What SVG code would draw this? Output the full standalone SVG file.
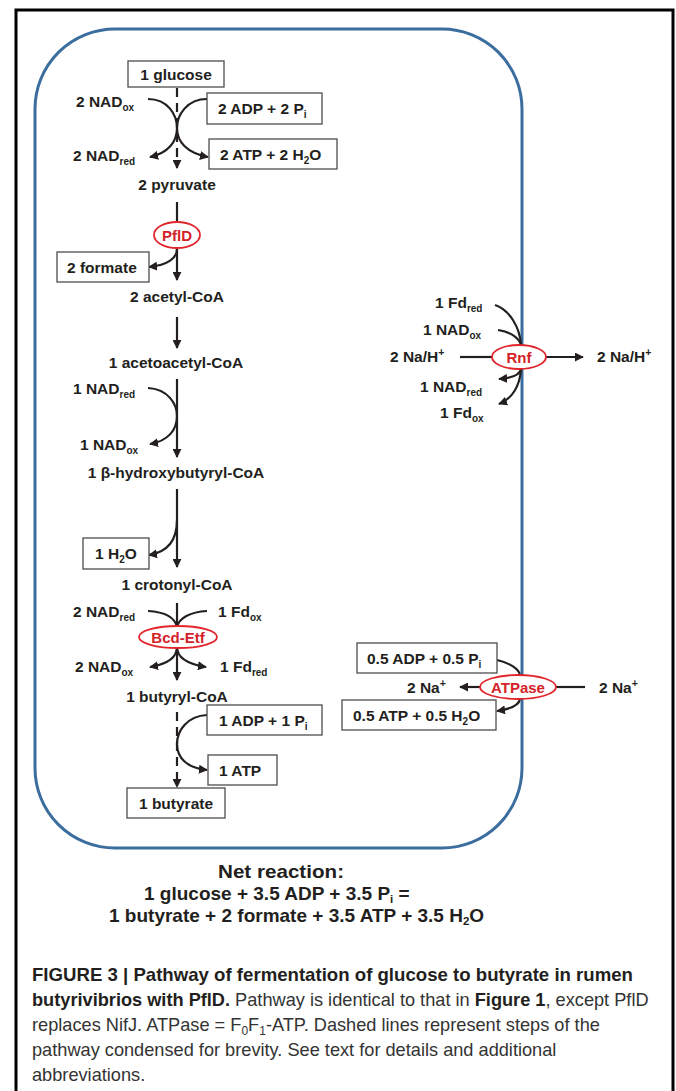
<svg xmlns="http://www.w3.org/2000/svg" width="676" height="1091" viewBox="0 0 676 1091">
<defs>
<style>
.t{font-family:"Liberation Sans",Arial,Helvetica,sans-serif;font-weight:bold;font-size:15.5px;fill:#231f20}
.m{text-anchor:middle}
.sub{font-size:10px}
.sup{font-size:10.5px}
.box{fill:#fff;stroke:#4d4d4d;stroke-width:1.3}
.enz{fill:#fff;stroke:#e2242b;stroke-width:1.8}
.et{font-family:"Liberation Sans",Arial,Helvetica,sans-serif;font-weight:bold;font-size:15px;fill:#d42229;text-anchor:middle}
.ln{fill:none;stroke:#231f20;stroke-width:2.2}
.dash{stroke-dasharray:9 6}
.cap{font-family:"Liberation Sans",Arial,Helvetica,sans-serif;font-size:18.2px;fill:#333}
.b{font-weight:bold;fill:#231f20}
.net{font-family:"Liberation Sans",Arial,Helvetica,sans-serif;font-weight:bold;font-size:19px;fill:#231f20}
</style>
<marker id="ah" viewBox="0 0 10 10" refX="9" refY="5" markerWidth="9" markerHeight="9" markerUnits="userSpaceOnUse" orient="auto">
<path d="M0,0 L10,5 L0,10 z" fill="#231f20"/>
</marker>
</defs>
<rect width="676" height="1091" fill="#fff"/>
<path d="M16,1091 V10 H673 V1091" fill="none" stroke="#000" stroke-width="3"/>
<rect id="cell" x="35" y="29" width="487" height="819" rx="80" ry="80" fill="none" stroke="#3b6d9e" stroke-width="3"/>

<g id="connectors">
<path class="ln dash" d="M177,88 V168" marker-end="url(#ah)"/>
<path class="ln" d="M148,99 C168,99 177,115 177,128 C177,142 168,153 150,157" marker-end="url(#ah)"/>
<path class="ln" d="M207,99 C187,99 177,115 177,128 C177,142 187,153 208,157" marker-end="url(#ah)"/>
<path class="ln" d="M177,202 V280" marker-end="url(#ah)"/>
<path class="ln" d="M177,249 C177,258 168,265 149,267" marker-end="url(#ah)"/>
<path class="ln" d="M177,317 V348" marker-end="url(#ah)"/>
<path class="ln" d="M177,379 V457" marker-end="url(#ah)"/>
<path class="ln" d="M148,388 C168,389 177,404 177,416 C177,430 168,441 150,444" marker-end="url(#ah)"/>
<path class="ln" d="M177,489 V567" marker-end="url(#ah)"/>
<path class="ln" d="M177,520 C177,540 168,552 149,555" marker-end="url(#ah)"/>
<path class="ln" d="M177,603 V680" marker-end="url(#ah)"/>
<path class="ln" d="M148,611 C165,612 175,618 177,627"/>
<path class="ln" d="M207,611 C190,612 179,618 177,627"/>
<path class="ln" d="M177,647 C177,657 168,664 150,667" marker-end="url(#ah)"/>
<path class="ln" d="M177,647 C177,657 187,664 206,667" marker-end="url(#ah)"/>
<path class="ln dash" d="M177,712 V787" marker-end="url(#ah)"/>
<path class="ln" d="M207,715 C187,716 177,731 177,744 C177,758 187,768 207,770" marker-end="url(#ah)"/>
<path class="ln" d="M460,357 H492"/>
<path class="ln" d="M546,357 H583" marker-end="url(#ah)"/>
<path class="ln" d="M495,305 C510,310 520,328 521,345"/>
<path class="ln" d="M498,330 C511,332 519,338 521,345"/>
<path class="ln" d="M521,369 C520,375 512,378 499,379" marker-end="url(#ah)"/>
<path class="ln" d="M521,369 C520,386 512,399 499,404" marker-end="url(#ah)"/>
<path class="ln" d="M480,687 H460" marker-end="url(#ah)"/>
<path class="ln" d="M556,687 H585"/>
<path class="ln" d="M497,660 C510,663 519,669 520,675"/>
<path class="ln" d="M520,699 C519,705 511,709 497,711" marker-end="url(#ah)"/>
</g>

<g id="glucose"><rect class="box" x="128" y="61" width="96" height="26"/><text class="t m" x="176" y="80">1 glucose</text></g>
<g id="nadox1"><text class="t" x="76" y="107">2 NAD<tspan class="sub" dy="4">ox</tspan></text></g>
<g id="nadred1"><text class="t" x="73" y="161">2 NAD<tspan class="sub" dy="4">red</tspan></text></g>
<g id="adp1"><rect class="box" x="207" y="93" width="115" height="31"/><text class="t" x="218" y="114">2 ADP + 2 P<tspan class="sub" dy="4">i</tspan></text></g>
<g id="atp1"><rect class="box" x="209" y="139" width="128" height="30"/><text class="t" x="220" y="160">2 ATP + 2 H<tspan class="sub" dy="4">2</tspan><tspan dy="-4">O</tspan></text></g>
<g id="pyruvate"><text class="t m" x="177" y="190">2 pyruvate</text></g>
<g id="pflD"><ellipse class="enz" cx="177" cy="235" rx="23" ry="13"/><text class="et" x="177" y="240.5">PflD</text></g>
<g id="formate"><rect class="box" x="57" y="252" width="92" height="30"/><text class="t" x="67" y="273">2 formate</text></g>
<g id="acetylcoa"><text class="t m" x="177" y="302">2 acetyl-CoA</text></g>
<g id="acetoacetylcoa"><text class="t m" x="176" y="368">1 acetoacetyl-CoA</text></g>
<g id="nadred2"><text class="t" x="73" y="394">1 NAD<tspan class="sub" dy="4">red</tspan></text></g>
<g id="nadox2"><text class="t" x="80" y="450">1 NAD<tspan class="sub" dy="4">ox</tspan></text></g>
<g id="hbcoa"><text class="t m" x="176" y="478">1 β-hydroxybutyryl-CoA</text></g>
<g id="h2o"><rect class="box" x="83" y="538" width="66" height="31"/><text class="t" x="95" y="559">1 H<tspan class="sub" dy="4">2</tspan><tspan dy="-4">O</tspan></text></g>
<g id="crotonylcoa"><text class="t m" x="177" y="590">1 crotonyl-CoA</text></g>
<g id="nadred3"><text class="t" x="73" y="617">2 NAD<tspan class="sub" dy="4">red</tspan></text></g>
<g id="fdox3"><text class="t" x="218" y="617">1 Fd<tspan class="sub" dy="4">ox</tspan></text></g>
<g id="bcdetf"><ellipse class="enz" cx="178" cy="637" rx="39" ry="11"/><text class="et" x="178" y="642.5">Bcd-Etf</text></g>
<g id="nadox3"><text class="t" x="75" y="672">2 NAD<tspan class="sub" dy="4">ox</tspan></text></g>
<g id="fdred3"><text class="t" x="220" y="672">1 Fd<tspan class="sub" dy="4">red</tspan></text></g>
<g id="butyrylcoa"><text class="t m" x="177" y="702">1 butyryl-CoA</text></g>
<g id="adp2"><rect class="box" x="207" y="705" width="115" height="30"/><text class="t" x="219" y="726">1 ADP + 1 P<tspan class="sub" dy="4">i</tspan></text></g>
<g id="atp2"><rect class="box" x="208" y="755" width="69" height="30"/><text class="t" x="219" y="776">1 ATP</text></g>
<g id="butyrate"><rect class="box" x="127" y="788" width="98" height="30"/><text class="t m" x="176" y="809">1 butyrate</text></g>

<g id="fdred4"><text class="t" x="435" y="308">1 Fd<tspan class="sub" dy="4">red</tspan></text></g>
<g id="nadox4"><text class="t" x="423" y="335">1 NAD<tspan class="sub" dy="4">ox</tspan></text></g>
<g id="nah-in"><text class="t" x="390" y="362">2 Na/H<tspan class="sup" dy="-6">+</tspan></text></g>
<g id="rnf"><ellipse class="enz" cx="519" cy="357" rx="27" ry="12"/><text class="et" x="519" y="362.5">Rnf</text></g>
<g id="nah-out"><text class="t" x="597" y="362">2 Na/H<tspan class="sup" dy="-6">+</tspan></text></g>
<g id="nadred4"><text class="t" x="420" y="392">1 NAD<tspan class="sub" dy="4">red</tspan></text></g>
<g id="fdox4"><text class="t" x="440" y="418">1 Fd<tspan class="sub" dy="4">ox</tspan></text></g>

<g id="adp3"><rect class="box" x="357" y="643" width="140" height="30"/><text class="t" x="367" y="664">0.5 ADP + 0.5 P<tspan class="sub" dy="4">i</tspan></text></g>
<g id="na-in"><text class="t" x="407" y="693">2 Na<tspan class="sup" dy="-6">+</tspan></text></g>
<g id="atpase"><ellipse class="enz" cx="518" cy="687" rx="38" ry="12"/><text class="et" x="518" y="692.5">ATPase</text></g>
<g id="na-out"><text class="t" x="599" y="693">2 Na<tspan class="sup" dy="-6">+</tspan></text></g>
<g id="atp3"><rect class="box" x="342" y="700" width="154" height="30"/><text class="t" x="353" y="721">0.5 ATP + 0.5 H<tspan class="sub" dy="4">2</tspan><tspan dy="-4">O</tspan></text></g>

<g id="net-reaction">
<text class="net" x="218" y="878" textLength="126" lengthAdjust="spacingAndGlyphs">Net reaction:</text>
<text class="net" x="144" y="900">1 glucose + 3.5 ADP + 3.5 P<tspan font-size="11.5" dy="3">i</tspan><tspan dy="-3"> =</tspan></text>
<text class="net" x="109" y="922">1 butyrate + 2 formate + 3.5 ATP + 3.5 H<tspan font-size="11.5" dy="3">2</tspan><tspan dy="-3">O</tspan></text>
</g>

<g id="caption">
<text class="cap b" x="32" y="981" textLength="601" lengthAdjust="spacingAndGlyphs">FIGURE 3 | Pathway of fermentation of glucose to butyrate in rumen</text>
<text class="cap" x="32" y="1006"><tspan class="b">butyrivibrios with PflD.</tspan> Pathway is identical to that in <tspan class="b">Figure 1</tspan>, except PflD</text>
<text class="cap" x="32" y="1031">replaces NifJ. ATPase = F<tspan font-size="12" dy="4">0</tspan><tspan dy="-4">F</tspan><tspan font-size="12" dy="4">1</tspan><tspan dy="-4">-ATP. Dashed lines represent steps of the</tspan></text>
<text class="cap" x="32" y="1056">pathway condensed for brevity. See text for details and additional</text>
<text class="cap" x="32" y="1081">abbreviations.</text>
</g>
</svg>
